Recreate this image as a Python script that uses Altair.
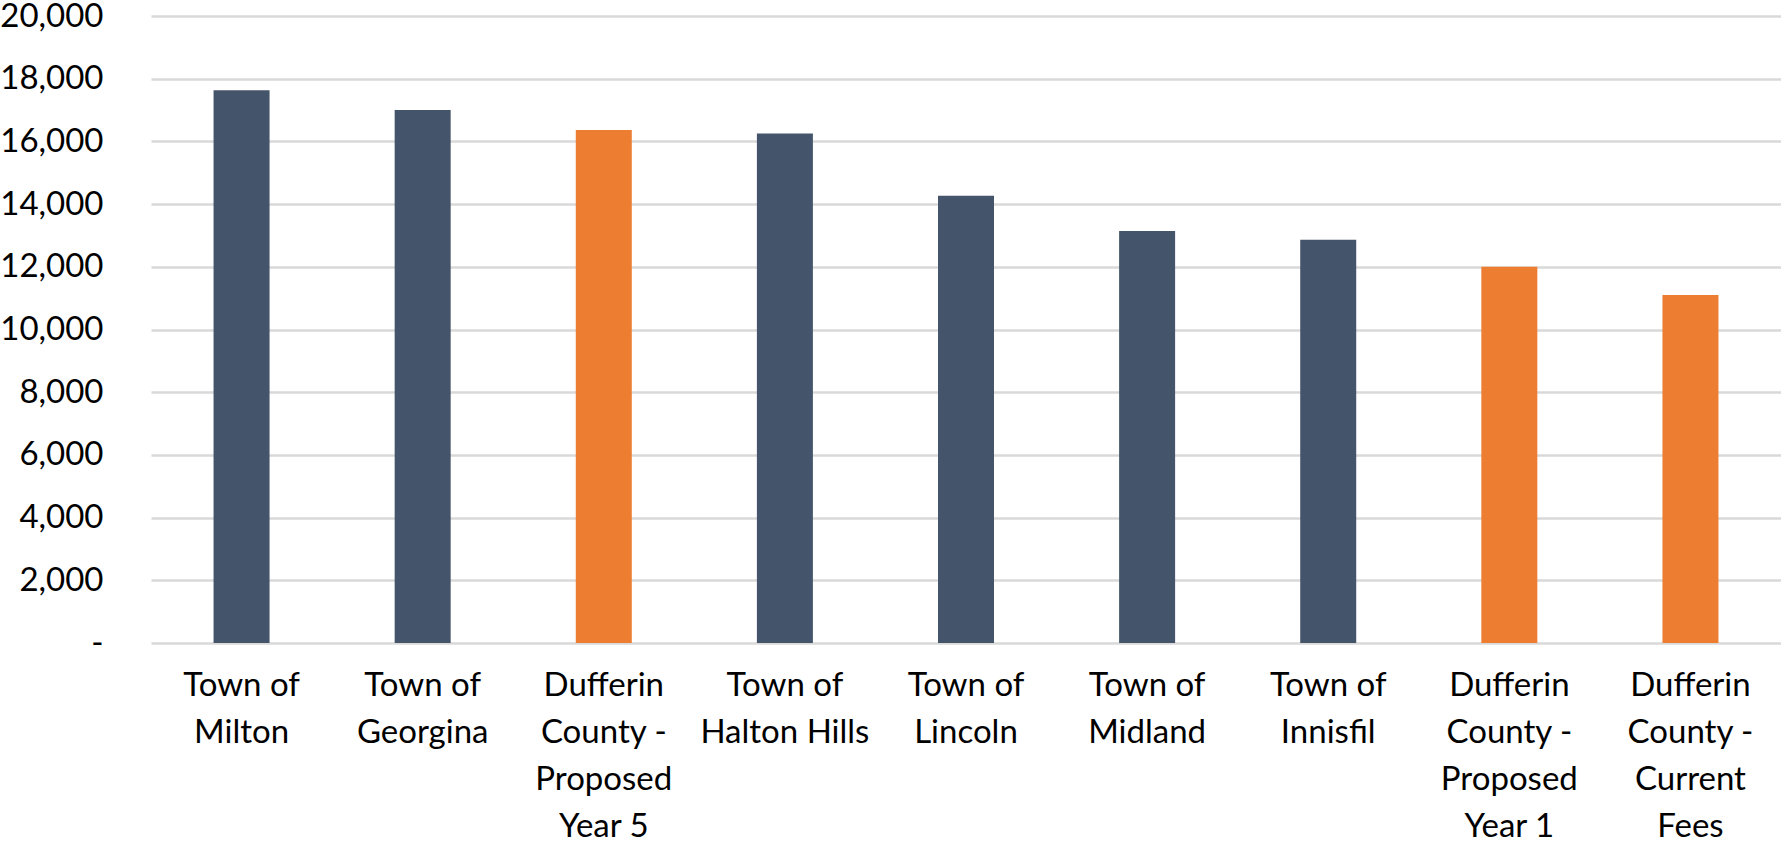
import altair as alt
import pandas as pd

# Municipalities and fee levels, in display order
municipalities = [
    "Town of\nMilton",
    "Town of\nGeorgina",
    "Dufferin\nCounty -\nProposed\nYear 5",
    "Town of\nHalton Hills",
    "Town of\nLincoln",
    "Town of\nMidland",
    "Town of\nInnisfil",
    "Dufferin\nCounty -\nProposed\nYear 1",
    "Dufferin\nCounty -\nCurrent\nFees",
]
fees = [17630, 17000, 16360, 16250, 14270, 13140, 12860, 12000, 11100]
groups = [
    "Comparator", "Comparator", "Dufferin", "Comparator", "Comparator",
    "Comparator", "Comparator", "Dufferin", "Dufferin",
]

df = pd.DataFrame({"municipality": municipalities, "fee": fees, "group": groups})

FONT = "Lato"

chart = (
    alt.Chart(df)
    .mark_bar(size=56)
    .encode(
        x=alt.X(
            "municipality:N",
            sort=None,
            title=None,
            axis=alt.Axis(
                labelAngle=0,
                labelExpr="split(datum.label, '\\n')",
                labelFont=FONT,
                labelFontSize=33,
                labelColor="#000000",
                labelLineHeight=47,
                labelPadding=26,
                labelLimit=0,
                labelBaseline="top",
                ticks=False,
                domain=False,
                grid=False,
            ),
        ),
        y=alt.Y(
            "fee:Q",
            title=None,
            scale=alt.Scale(domain=[0, 20000], nice=False),
            axis=alt.Axis(
                values=list(range(0, 20001, 2000)),
                labelExpr="datum.value == 0 ? '-\u00a0\u00a0' : format(datum.value, ',')",
                labelFont=FONT,
                labelFontSize=33,
                labelColor="#000000",
                labelPadding=48,
                ticks=False,
                domain=False,
                grid=True,
                gridColor="#D9D9D9",
                gridWidth=2.5,
            ),
        ),
        color=alt.Color(
            "group:N",
            scale=alt.Scale(domain=["Comparator", "Dufferin"], range=["#44546A", "#ED7D31"]),
            legend=None,
        ),
    )
    .properties(
        width=1630,
        height=627,
        autosize=alt.AutoSizeParams(type="none"),
        padding={"left": 151, "top": 16, "right": 0, "bottom": 206},
    )
    .configure_view(stroke=None)
    .configure_scale(bandPaddingInner=0.69, bandPaddingOuter=0.345)
)

chart.save("out.html", embed_options={"renderer": "svg", "actions": False})
